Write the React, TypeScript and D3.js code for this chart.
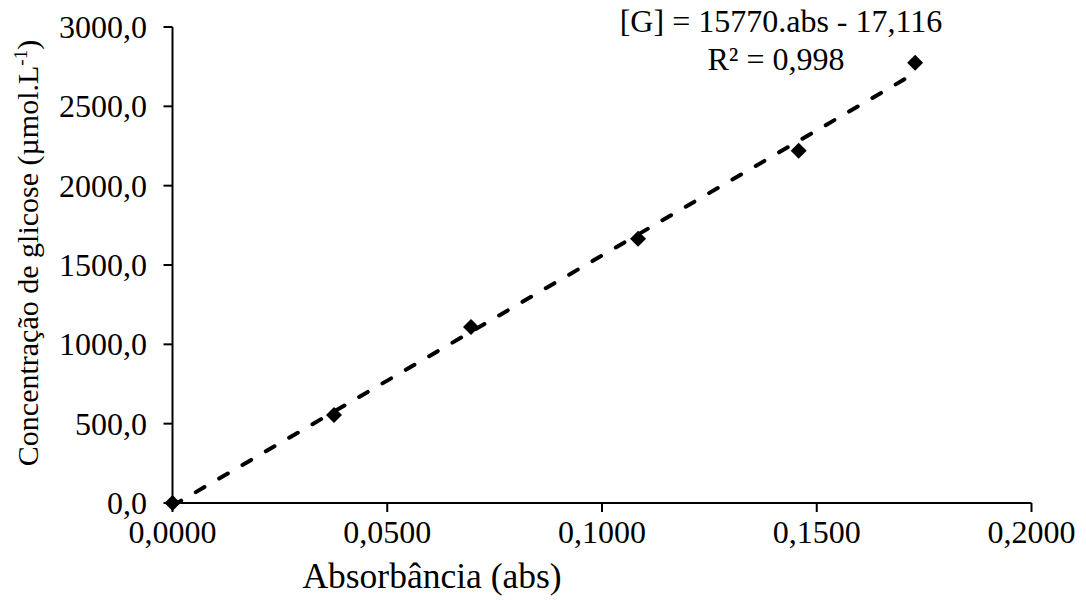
import React from "react";
import * as d3 from "d3";

// Calibration points: absorbance vs glucose concentration (µmol/L)
const absorbance = [0, 0.0376, 0.0695, 0.1084, 0.1458, 0.1729];
const glucose = [0, 555, 1110, 1665, 2220, 2775];

// Linear fit reported on the chart
const slope = 15770;
const intercept = -17.116;

const xTicks = [0, 0.05, 0.1, 0.15, 0.2];
const yTicks = [0, 500, 1000, 1500, 2000, 2500, 3000];

const W = 1086;
const H = 600;
const FONT = "'Liberation Serif', 'Times New Roman', serif";

const locale = d3.formatLocale({
  decimal: ",",
  thousands: "",
  grouping: [3],
  currency: ["", ""],
});
const fmtX = locale.format(".4f");
const fmtY = locale.format(".1f");

export default function App() {
  const x = d3.scaleLinear().domain([0, 0.2]).range([172.5, 1031.5]);
  const y = d3.scaleLinear().domain([0, 3000]).range([503, 27]);

  const xMax = d3.max(absorbance) as number;
  const fitLine = d3
    .line<number>()
    .x((a) => x(a))
    .y((a) => y(slope * a + intercept));

  const x0 = x.range()[0];
  const x1 = x.range()[1];
  const y0 = y.range()[0];
  const y1 = y.range()[1];
  const d = 8;

  return (
    <svg
      width={W}
      height={H}
      style={{ position: "absolute", left: 0, top: 0, background: "#fff" }}
      fontFamily={FONT}
    >
      <rect width={W} height={H} fill="#fff" />

      {/* trend line */}
      <path
        d={fitLine([0, xMax]) as string}
        fill="none"
        stroke="#000"
        strokeWidth={4}
        strokeDasharray="10 17"
        strokeLinecap="round"
      />

      {/* axes */}
      <line x1={x0} x2={x0} y1={y1} y2={y0} stroke="#000" strokeWidth={2} />
      <line x1={x0} x2={x1} y1={y0} y2={y0} stroke="#000" strokeWidth={2} />

      {yTicks.map((t) => (
        <g key={"y" + t}>
          <line x1={x0 - 9} x2={x0} y1={y(t)} y2={y(t)} stroke="#000" strokeWidth={2} />
          <text x={147} y={y(t) + 11} textAnchor="end" fontSize={32} fill="#000">
            {fmtY(t)}
          </text>
        </g>
      ))}

      {xTicks.map((t) => (
        <g key={"x" + t}>
          <line x1={x(t)} x2={x(t)} y1={y0} y2={y0 + 9} stroke="#000" strokeWidth={2} />
          <text x={x(t)} y={543} textAnchor="middle" fontSize={32} fill="#000">
            {fmtX(t)}
          </text>
        </g>
      ))}

      {/* data points */}
      {absorbance.map((a, i) => {
        const cx = x(a);
        const cy = y(glucose[i]);
        return (
          <path
            key={"p" + i}
            d={`M${cx},${cy - d}L${cx + d},${cy}L${cx},${cy + d}L${cx - d},${cy}Z`}
            fill="#000"
          />
        );
      })}

      {/* axis titles */}
      <text x={432} y={588} textAnchor="middle" fontSize={35.5} fill="#000">
        Absorbância (abs)
      </text>
      <text
        transform="translate(38,253) rotate(-90)"
        textAnchor="middle"
        fontSize={30}
        fill="#000"
      >
        Concentração de glicose (µmol.L
        <tspan fontSize={19} dy={-11}>-1</tspan>
        <tspan dy={11}>)</tspan>
      </text>

      {/* equation */}
      <text x={781} y={32} textAnchor="middle" fontSize={32} fill="#000">
        [G] = 15770.abs - 17,116
      </text>
      <text x={776} y={70} textAnchor="middle" fontSize={32} fill="#000">
        R² = 0,998
      </text>
    </svg>
  );
}
